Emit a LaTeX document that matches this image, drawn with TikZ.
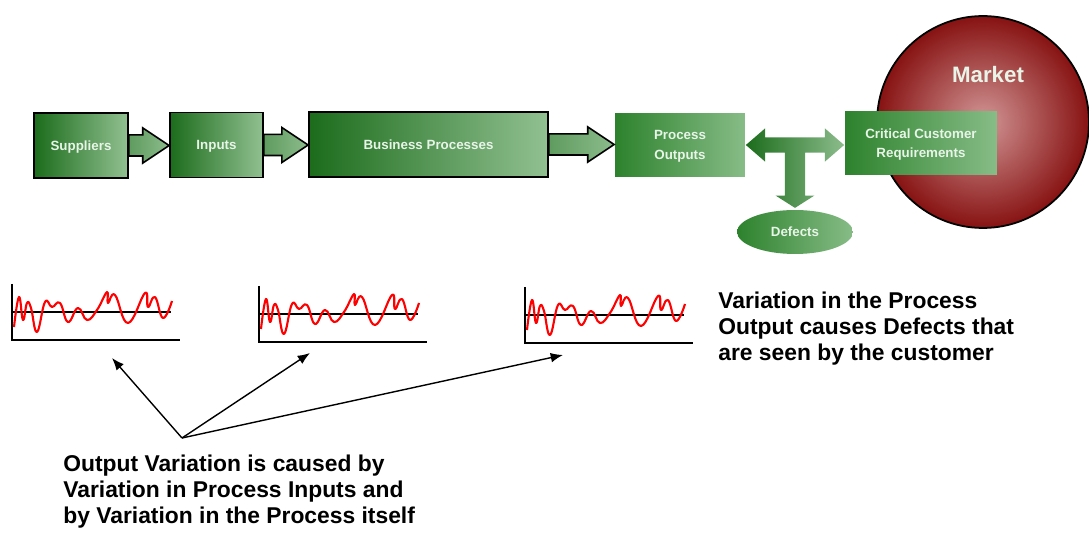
\documentclass[tikz,border=0pt]{standalone}
\usepackage{fontspec}
\setmainfont{Liberation Sans}
\usetikzlibrary{calc, shapes.geometric, arrows.meta}

\definecolor{boxdark}{RGB}{28,108,28}
\definecolor{boxlight}{RGB}{145,192,145}
\definecolor{outdark}{RGB}{45,130,45}
\definecolor{outlight}{RGB}{135,188,135}
\definecolor{arrowdark}{RGB}{95,155,95}
\definecolor{arrowlight}{RGB}{140,188,140}
\definecolor{labelwhite}{RGB}{232,244,232}
\definecolor{marketred}{RGB}{135,18,18}
\definecolor{marketpink}{RGB}{210,150,150}

\newcommand{\boxfont}{\bfseries\fontsize{7.6}{11}\selectfont}
\newcommand{\notefont}{\bfseries\fontsize{13}{14.8}\selectfont}

\tikzset{
		proc box/.style={
			rectangle,
			draw=black,
			line width=1pt,
			left color=boxdark,
			right color=boxlight,
			text=labelwhite,
			font=\boxfont,
			align=center,
			minimum height=1.3cm,
			text depth=0pt,
			inner sep=0pt
		},
		out box/.style={
			proc box,
			draw=none,
			left color=outdark,
			right color=outlight
		},
		flow arrow/.style={
			draw=black,
			line width=0.9pt,
			left color=arrowdark,
			right color=arrowlight
		},
		tee arrow/.style={
			left color=boxdark,
			right color=arrowlight
		},
		defect blob/.style={
			ellipse,
			left color=outdark,
			right color=outlight,
			text=labelwhite,
			font=\boxfont,
			minimum width=2.32cm,
			minimum height=0.88cm
		},
		market ball/.style={
			circle,
			draw=black,
			line width=1pt,
			inner color=marketpink,
			outer color=marketred,
			minimum size=4.24cm
		},
		note/.style={
			align=left,
			anchor=north west,
			inner sep=0pt,
			font=\notefont
		},
		axis line/.style={black, line width=1pt},
		wave/.style={red, line width=1.2pt, line join=round},
		pointer/.style={-{Latex[length=7pt,width=5.5pt]}, line width=0.8pt}
	}

% block arrow from the east side of #1 to the west side of #2
\newcommand{\flowarrow}[2]{%
	\path[flow arrow] let \p1=(#1.east), \p2=(#2.west) in
		(\x1,\y1+6pt) -- (\x2-15pt,\y1+6pt) -- (\x2-15pt,\y1+10pt) -- (\x2,\y1)
		-- (\x2-15pt,\y1-10pt) -- (\x2-15pt,\y1-6pt) -- (\x1,\y1-6pt) -- cycle;
}

\begin{document}
\begin{tikzpicture}[x=0.02cm, y=-0.02cm]
	\useasboundingbox (0,0) rectangle (1089,533);

	\node[market ball] (mkt) at (983,122) {};
	\node[font=\bfseries\fontsize{12.7}{14}\selectfont, text=labelwhite] (mktlbl) at (988,75) {Market};

	\node[proc box, minimum width=1.88cm] (sup) at (81,145.5) {Suppliers};
	\node[proc box, minimum width=1.86cm] (inp) at (216.5,145) {Inputs};
	\node[proc box, minimum width=4.78cm] (bp) at (428.5,144.5) {Business Processes};
	\node[out box, minimum width=2.6cm, minimum height=1.28cm] (po) at (680,145) {Process\\Outputs};
	\node[out box, minimum width=3.04cm, minimum height=1.28cm] (ccr) at (921,143) {Critical Customer\\Requirements};
	\node[defect blob] (def) at (795,232) {Defects};

	\flowarrow{sup}{inp}
	\flowarrow{inp}{bp}
	\flowarrow{bp}{po}

	% two-headed arrow with the stem down to the defects
	\path[tee arrow] let \p1=(po.east), \p2=(ccr.west), \p3=(def.north),
			\n1={(\x1+\x2)/2} in
		(\x1,\y1) -- (\x1+11pt,\y1+9.5pt) -- (\x1+11pt,\y1+4.3pt)
		-- (\x2-11pt,\y1+4.3pt) -- (\x2-11pt,\y1+9.5pt) -- (\x2,\y1)
		-- (\x2-11pt,\y1-9.5pt) -- (\x2-11pt,\y1-4.3pt)
		-- (\n1+5.7pt,\y1-4.3pt) -- (\n1+5.7pt,\y3+8pt) -- (\n1+11pt,\y3+8pt)
		-- (\n1,\y3+1pt) -- (\n1-11pt,\y3+8pt) -- (\n1-5.7pt,\y3+8pt)
		-- (\n1-5.7pt,\y1-4.3pt) -- (\x1+11pt,\y1-4.3pt) -- (\x1+11pt,\y1-9.5pt) -- cycle;

	% the three run charts
	\foreach \cx/\cy in {12/340, 259/342, 525/343} {
		\begin{scope}[shift={(\cx,\cy)}]
			\draw[axis line] (0,-56) -- (0,0) -- (168,0);
			\draw[axis line] (0,-28) -- (159,-28);
			\draw[wave] plot[smooth, tension=0.75] coordinates {
				(2,-13) (7,-43) (11,-20) (15,-37) (19,-32) (25,-8) (33,-38) (40,-33)
				(48,-37) (56,-18) (66,-32) (75,-20) (85,-30) (95,-48) (96,-37) (103,-45)
				(116,-17) (133,-47) (136,-33) (143,-43) (151,-22) (160,-39)};
		\end{scope}
	}

	\coordinate (src) at (182,438);
	\coordinate (t1) at (112,358);
	\coordinate (t2) at (310,353);
	\coordinate (t3) at (563,355);
	\draw[pointer] (src) -- (t1);
	\draw[pointer] (src) -- (t2);
	\draw[pointer] (src) -- (t3);

	\node[note] (cause) at (63,455) {Output Variation is caused by\\Variation in Process Inputs and\\by Variation in the Process itself};
	\node[note] (effect) at (718,292) {Variation in the Process\\Output causes Defects that\\are seen by the customer};
\end{tikzpicture}
\end{document}
